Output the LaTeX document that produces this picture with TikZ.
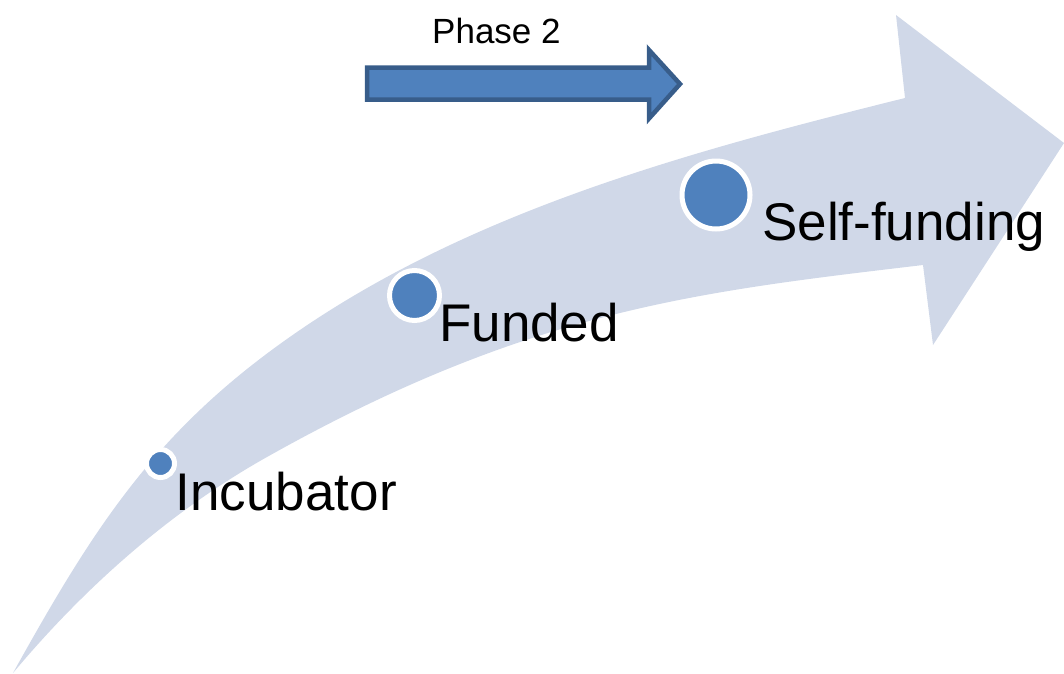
\documentclass[tikz,border=0pt]{standalone}
\usepackage{fontspec}
\setmainfont{Liberation Sans}
\definecolor{lightarrow}{HTML}{D0D8E8}
\definecolor{dotblue}{HTML}{4F81BD}
\definecolor{darkblue}{HTML}{385D8A}
\begin{document}
\begin{tikzpicture}[x=1pt,y=-1pt,
  dot/.style={circle, fill=dotblue, draw=white, line width=5pt, inner sep=0pt},
  lbl/.style={anchor=base west, inner sep=0pt, text=black, font=\fontsize{53}{60}\selectfont},
  phaselbl/.style={anchor=base west, inner sep=0pt, text=black, font=\fontsize{35}{40}\selectfont},
  phasearrow/.style={fill=dotblue, draw=darkblue, line width=4.5pt, line join=miter}]
\useasboundingbox (0,0) rectangle (1064,673);
% big curved arrow
\fill[lightarrow] (13,673)
  .. controls (95.6,524.4) and (157,428.4) .. (297,332)
  .. controls (475.6,209) and (694.5,150.3) .. (905,98)
  -- (896,15) -- (1064,143) -- (933,345) -- (923,265)
  .. controls (696.6,291.9) and (528.6,310) .. (267,457)
  .. controls (170,511.4) and (84,588) .. (13,673)
  -- cycle;
% phase arrow
\draw[phasearrow] (367,67.5) -- (649,67.5) -- (649,50) -- (680,84) -- (649,118.5) -- (649,99.5) -- (367,99.5) -- cycle;
\node[phaselbl] (phase) at (432,43) {Phase 2};
% dots
\node[dot, minimum size=28pt] (d1) at (160.5,463.5) {};
\node[dot, minimum size=50pt] (d2) at (414.5,295.5) {};
\node[dot, minimum size=68pt] (d3) at (716,195) {};
% labels
\node[lbl] (inc) at (175.5,510) {Incubator};
\node[lbl] (fun) at (439,341) {Funded};
\node[lbl] (self) at (762,240) {Self-funding};
\end{tikzpicture}
\end{document}
